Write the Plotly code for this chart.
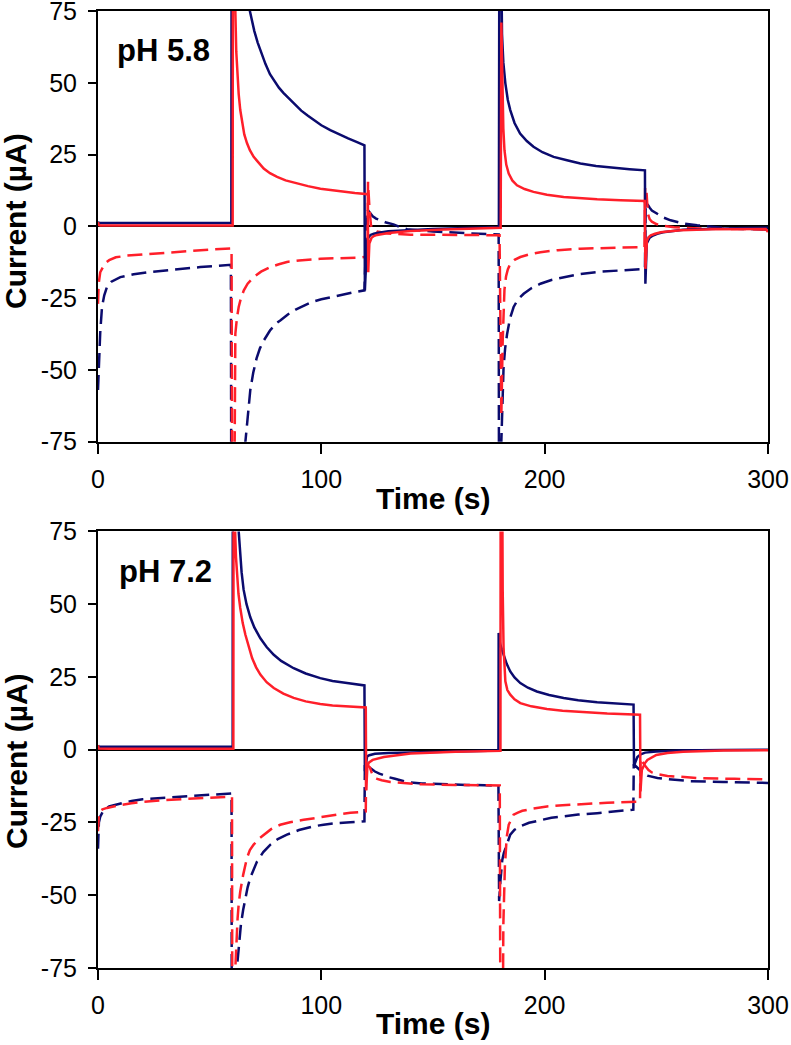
import plotly.graph_objects as go

# ---------------- pH 5.8 (top panel) ----------------
t58_navy_solid = [0, 0.5, 10, 30, 59.7, 60.0, 62, 64, 66, 68, 69, 70, 71.5, 73, 75, 77, 79, 81, 83, 85, 88, 91, 94, 97,
                  100, 104, 108, 112, 116, 119.3,
                  119.5, 120.5, 121.2, 122, 123.5, 125, 130, 140, 150, 165, 179.5,
                  179.8, 180.2, 180.9, 181.5, 182.4, 183.5, 184.6, 186.5, 189, 192, 195, 199, 204, 210, 216, 223, 231,
                  238, 244.9,
                  245.1, 245.7, 246.3, 247, 248.5, 250.4, 253, 257, 262, 268, 275, 290, 300]
i58_navy_solid = [1.5, 1.2, 1.2, 1.2, 1.2, 250, 140, 105, 86, 75, 71.5, 68, 64, 60.5, 56.5, 53, 50.5, 48.3, 46.5, 45,
                  42.5, 40.3, 38.5, 36.8, 35.2, 33.5, 32, 30.6, 29.3, 28.2,
                  -22.3, -5, -3.8, -3, -2.6, -2.3, -1.7, -1.2, -0.9, -0.6, -0.3,
                  150, 110, 67, 57, 49.8, 44, 40.5, 36, 32.3, 29.7, 27.7, 25.8, 24.2, 23, 21.9, 21, 20.3,
                  19.9, 19.5,
                  -20, -6, -4.8, -4, -3.2, -2.6, -2.1, -1.6, -1.2, -1.0, -0.8, -0.6, -0.5]

t58_red_solid = [0, 0.3, 1, 10, 30, 60.3, 60.5, 61, 61.5, 61.9, 62.4, 63, 63.7, 64.5, 65.5, 66.7, 68, 69.7, 72, 74.2,
                 77, 80.2, 84, 89, 94, 99.6, 105, 110, 115, 120.8,
                 121.0, 121.5, 122.5, 123.5, 125, 130, 140, 155, 179.9,
                 180.3, 180.6, 180.85, 181.1, 181.5, 182, 182.8, 183.9, 185.5, 187.6, 191, 195, 201, 208.5, 216,
                 223.5, 234, 244.8,
                 245.1, 245.8, 246.5, 247.5, 249.4, 252, 255, 261, 268, 275, 299, 300]
i58_red_solid = [1.5, 0.5, 0.3, 0.3, 0.3, 0.3, 200, 120, 75, 61, 53, 46, 40.5, 36, 32, 29, 26.5, 24.2, 22, 20.1,
                 18.5, 17.2, 16, 14.9, 14, 13.1, 12.5, 12, 11.6, 11.2,
                 -16, -6, -4, -3.4, -3, -2.3, -1.6, -1.1, -0.5,
                 -0.5, 71, 55, 44, 34, 26.5, 21.5, 18.4, 16, 14.3, 13, 12, 11, 10.2, 9.7,
                 9.4, 9.1, 8.8,
                 -14.8, -5, -3.8, -3.1, -2.6, -2.1, -1.8, -1.4, -1.2, -1.0, -0.9, -2]

t58_navy_dash = [0, 0.5, 1, 1.8, 2.8, 4, 6, 10, 16, 23.4, 35, 45.8, 59.5,
                 60, 62, 64, 66, 67, 68.2, 69.5, 71, 72.5, 74.2, 77, 79.5, 81.6, 85, 88.5, 92.1, 96, 100, 104, 110,
                 115, 119.3,
                 120.5, 121.5, 123, 124.5, 126.4, 129, 132.3, 135, 138.4, 144, 150, 165, 179.4,
                 179.7, 180.0, 180.6, 181.1, 181.6, 182.3, 183.2, 184.5, 186.1, 188, 190.6, 194, 198.1, 203, 208.5,
                 215, 223.5, 233, 244.9,
                 245.2, 245.9, 247, 248, 250.4, 253, 256.4, 259, 262, 268.3, 275, 283, 300]
i58_navy_dash = [-57, -45, -37, -28, -24, -21.2, -19.3, -17.7, -16.7, -15.9, -15, -14.2, -13.4,
                 -250, -140, -100, -75, -67, -57, -51, -46, -42.5, -39.8, -36.3, -34, -32.8, -30.7, -29, -27.6, -26.3,
                 -25.4, -24.7, -23.6, -22.9, -22.3,
                 6, 5, 3.5, 2.7, 2.1, 1.3, 0.7, -0.2, -1.0, -1.4, -1.8, -2.4, -2.8,
                 -200, -120, -75, -60, -49, -42.5, -37.4, -32, -28.1, -25.5, -23.5, -21.6, -20, -18.7, -17.7,
                 -16.7, -15.9, -15.3, -14.8,
                 8, 7.9, 6.5, 5.5, 4.4, 3.1, 2.1, 1.5, 1.0, 0.35, -0.2, -0.8, -1.1]

t58_red_dash = [0, 0.3, 1, 2, 3, 5, 8, 13, 20, 30, 40, 50, 59.8,
                60.5, 61.0, 61.5, 62.2, 63, 64, 65.3, 67, 69.7, 73, 77.2, 81, 84.6, 90, 99.6, 108, 117.5, 120.7,
                120.9, 121.5, 122.2, 123, 125, 130, 140, 179.8,
                180.2, 180.6, 181.2, 181.6, 182, 182.7, 183.5, 184.6, 186.5, 189.1, 193, 198.1, 206, 216, 230, 244.7,
                245.0, 245.6, 246.2, 247, 248, 250, 252, 255, 258, 264, 270, 285, 300]
i58_red_dash = [-27, -20, -16, -14.2, -13, -11.8, -10.8, -10.2, -9.8, -9.1, -8.5, -8.1, -7.7,
                -250, -100, -37.4, -32, -28.1, -25, -22.3, -20, -17.7, -15.8, -14.2, -13.2, -12.4, -11.9, -11.3,
                -11.1, -10.9, -10.5,
                15.5, 7, 0.5, -1, -1.8, -2.5, -2.9, -3.1,
                -30, -66, -40, -28, -22, -17.5, -15, -13, -11.7, -10.7, -9.8, -9, -8.3, -7.8, -7.4, -7.2,
                13.7, 12, 4.4, 2.5, 1.6, 0.8, 0.3, 0, -0.3, -0.6, -0.8, -0.9, -1.1]

# ---------------- pH 7.2 (bottom panel) ----------------
t72_navy_solid = [0, 0.3, 5, 30, 60.3, 60.4, 61, 62, 63, 63.6, 64.3, 65.2, 66.5, 68.2, 70, 72.7, 75.5, 78.7, 82, 87.6,
                  93, 99.5, 105, 111.5, 119.3,
                  119.5, 120.5, 121.5, 122.5, 124, 130, 138, 150, 165, 179.3,
                  179.4, 180, 180.8, 181.6, 183, 184.6, 186.5, 189.1, 192.5, 196.5, 202, 208.5, 215, 223.5, 231, 239.8,
                  240.0, 240.7, 241.5, 243, 245, 250, 260, 280, 300]
i72_navy_solid = [1.5, 1.0, 1.0, 1.0, 1.0, 200, 140, 100, 75, 68, 61, 55, 50, 45.5, 42, 38.3, 35.3, 32.6, 30.5, 28,
                  26.2, 24.6, 23.6, 22.9, 22.1,
                  -7.4, -2.3, -1.9, -1.6, -1.4, -1.1, -1.0, -0.7, -0.5, -0.3,
                  40.1, 36.5, 34.5, 32.6, 29.5, 26.9, 24.8, 22.9, 21.3, 20, 18.8, 17.8, 17, 16.3, 15.9, 15.5,
                  -5.5, -4, -2.5, -1.6, -1, -0.6, -0.3, -0.1, 0]

t72_red_solid = [0, 0.3, 5, 30, 60.6, 60.8, 61, 61.4, 61.8, 62.2, 62.9, 63.7, 64.8, 66, 67.5, 69, 70.8, 72.7, 75.5,
                 78.7, 83, 87.6, 93, 99.5, 105, 110, 119.9,
                 120.1, 120.6, 121.2, 123, 128, 140, 160, 180.2,
                 180.4, 180.8, 181.2, 181.6, 182, 182.4, 183.3, 184.6, 186.5, 189.1, 194, 201, 208, 216, 228, 242.7,
                 242.9, 243.5, 244, 245, 246, 248, 250, 255, 262, 280, 300]
i72_red_solid = [1.5, 0.4, 0.3, 0.3, 0.3, 200, 120, 75, 66, 60, 53.5, 48.7, 43.5, 39.5, 35, 31.5, 28.3, 25.8, 23.2,
                 21.2, 19.3, 17.8, 16.6, 15.7, 15.2, 14.9, 14.5,
                 -14, -6, -4.5, -3.5, -2.5, -1.3, -0.7, -0.4,
                 200, 100, 55, 35, 28, 23.5, 20.5, 18.9, 17.3, 16, 14.9, 14, 13.4, 12.9, 12.4, 12,
                 -14.3, -7, -6, -4.5, -3.5, -2.5, -1.8, -1.1, -0.7, -0.3, -0.2]

t72_navy_dash = [0, 0.4, 1, 2, 3.5, 5, 7.5, 10, 15, 20, 30, 40, 50, 59.8,
                 60.0, 61, 62.2, 63, 64, 65, 66, 67, 68.2, 69.7, 71.2, 74, 77.2, 80.5, 84.6, 90, 96.5, 101, 107, 113,
                 119.3,
                 119.5, 121.2, 122.5, 124, 126, 127.9, 130.5, 133, 135.5, 138.4, 145, 153.3, 165, 179.3,
                 179.6, 180.2, 181, 181.7, 182.4, 183.5, 184.6, 186.5, 189.1, 193, 198.1, 203, 208.5, 215, 223.5, 231,
                 239.7,
                 239.9, 241, 242, 243, 244.4, 246, 248, 250.5, 253.4, 258, 265, 280, 300]
i72_navy_dash = [-34, -25, -23, -21.5, -20.3, -19.5, -19, -18.5, -17.6, -17, -16.4, -16, -15.5, -15,
                 -200, -120, -75, -67, -60, -55, -51, -47.3, -44, -41, -38.4, -35.2, -32.6, -30.7, -29.2, -27.6, -26.3,
                 -25.8, -25.2, -24.9, -24.6,
                 -5, -6, -6.8, -7.5, -8.2, -8.8, -9.5, -10, -10.6, -11.1, -11.6, -11.9, -12.1, -12.3,
                 -52, -45, -38, -35.5, -33.8, -31.3, -29.2, -27.5, -26.3, -25.1, -24.1, -23.4, -22.9, -22.3, -21.8,
                 -21.2, -20.6,
                 -5, -5.8, -6.5, -7.4, -8.3, -8.9, -9.3, -9.7, -10, -10.4, -10.8, -11.1, -11.4]

t72_red_dash = [0, 0.4, 1, 2, 4, 7, 10, 15, 20, 30, 40, 50, 60.0,
                60.3, 61, 61.5, 62, 62.5, 63, 63.7, 65, 66.7, 68, 69.7, 72, 74.2, 77.5, 81.6, 86, 92.1, 99, 107, 113,
                119.9,
                120.1, 120.9, 121.7, 122.5, 123.4, 125, 127, 130.9, 137, 145, 160, 179.9,
                180.5, 181, 181.5, 182.2, 183, 183.9, 185, 186.1, 188, 190, 195, 201, 208, 216, 228, 242.7,
                242.9, 243.5, 244, 244.8, 245.5, 246.5, 248, 251, 255, 262, 270, 285, 300]
i72_red_dash = [-28, -22.5, -21, -20.5, -20, -19.4, -19, -18.4, -17.9, -17.3, -16.8, -16.5, -16.2,
                -200, -110, -75, -65, -58, -53, -48.7, -43, -37.2, -34.5, -32.6, -30.6, -29.2, -27.3, -25.8, -24.9,
                -24.1, -23.2, -22.3, -21.7, -21.2,
                -5, -5.5, -6, -7.8, -9.4, -10, -10.5, -11.1, -11.5, -11.9, -12.1, -12.3,
                -200, -100, -60, -40, -30, -25.8, -23.8, -22.3, -21.6, -21, -20.2, -19.5, -19.1, -18.7, -18.2, -17.8,
                -3, -3.8, -4.5, -5.3, -6, -7, -7.8, -8.5, -9, -9.4, -9.8, -10, -10.2]

panel_labels = ["pH 5.8", "pH 7.2"]
x_ticks = [0, 100, 200, 300]
y_ticks = [-75, -50, -25, 0, 25, 50, 75]
y_ticktext = ["-75", "-50", "-25", "0", "25", "50", "75"]

NAVY = "#0B0B6E"
RED = "#FF1F2A"
FONT = "Liberation Sans, Arial, sans-serif"
DASH = "15px,7px"
LW = 2.5

fig = go.Figure()

panels = [
    ("x", "y", [(t58_navy_dash, i58_navy_dash, NAVY, DASH), (t58_red_dash, i58_red_dash, RED, DASH),
                (t58_navy_solid, i58_navy_solid, NAVY, "solid"), (t58_red_solid, i58_red_solid, RED, "solid")]),
    ("x2", "y2", [(t72_navy_dash, i72_navy_dash, NAVY, DASH), (t72_red_dash, i72_red_dash, RED, DASH),
                  (t72_navy_solid, i72_navy_solid, NAVY, "solid"), (t72_red_solid, i72_red_solid, RED, "solid")]),
]
for xa, ya, series in panels:
    for t, i, col, dash in series:
        fig.add_trace(go.Scatter(x=t, y=i, mode="lines", xaxis=xa, yaxis=ya, showlegend=False,
                                 line=dict(color=col, width=LW, dash=dash)))

axis_common = dict(showline=True, linecolor="black", linewidth=2, mirror=True, showgrid=False,
                   ticks="outside", tickcolor="black", tickwidth=2, automargin=False,
                   ticklabeloverflow="allow",
                   tickfont=dict(family=FONT, size=25, color="black"))

xcfg = dict(axis_common, range=[0, 300], tickvals=x_ticks, ticklen=10, zeroline=False, ticklabelstandoff=4)
ycfg = dict(axis_common, range=[-75, 75], tickvals=y_ticks, ticktext=y_ticktext, ticklen=8,
            zeroline=True, zerolinecolor="black", zerolinewidth=1.5, ticklabelstandoff=6)

top_dom = [0.550, 1.0]
bot_dom = [0.0, 0.4562]

fig.update_layout(
    width=791, height=1045,
    margin=dict(l=98, r=23, t=11, b=77, autoexpand=False),
    plot_bgcolor="white", paper_bgcolor="white",
    xaxis=dict(xcfg, domain=[0, 1], anchor="y"),
    yaxis=dict(ycfg, domain=top_dom, anchor="x"),
    xaxis2=dict(xcfg, domain=[0, 1], anchor="y2"),
    yaxis2=dict(ycfg, domain=bot_dom, anchor="x2"),
)

title_font = dict(family=FONT, size=30, color="black", weight="bold")
label_font = dict(family=FONT, size=31, color="black", weight="bold")
annots = [
    dict(text=panel_labels[0], x=0.0254, y=0.959, xanchor="left", yanchor="middle", font=label_font),
    dict(text=panel_labels[1], x=0.028, y=0.4148, xanchor="left", yanchor="middle", font=label_font),
    dict(text="Time (s)", x=0.5, y=0.491, xanchor="center", yanchor="middle", font=title_font),
    dict(text="Time (s)", x=0.5, y=-0.0585, xanchor="center", yanchor="middle", font=title_font),
    dict(text="Current (µA)", x=-0.1224, y=0.7806, xanchor="center", yanchor="middle", textangle=-90, font=title_font),
    dict(text="Current (µA)", x=-0.1224, y=0.2163, xanchor="center", yanchor="middle", textangle=-90, font=title_font),
]
for a in annots:
    fig.add_annotation(xref="paper", yref="paper", showarrow=False, **a)

fig.write_html("out.html", config={"displayModeBar": False},
               post_script="document.body.style.margin='0';document.body.style.overflow='hidden';")
